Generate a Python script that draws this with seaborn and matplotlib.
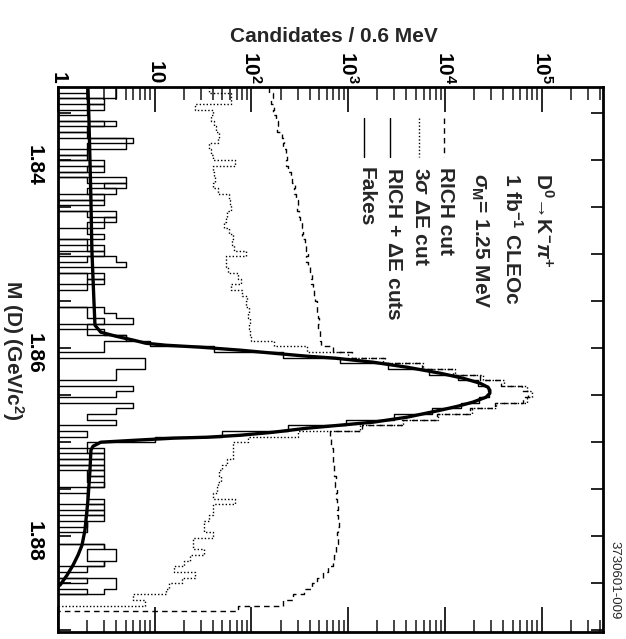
import numpy as np
import matplotlib
matplotlib.use("Agg")
import matplotlib.pyplot as plt
import matplotlib.transforms as mtransforms
from matplotlib.ticker import FixedLocator, FixedFormatter, LogLocator, MultipleLocator, NullFormatter
import seaborn as sns

# ---- binning: 0.6 MeV bins in M(D) ----
bin_lo = 1.8322
bin_width = 0.0006
n_bins = 97
edges = bin_lo + bin_width * np.arange(n_bins + 1)

# ---- candidates per bin ----
rich_cut = [150, 165, 160, 170, 168, 180, 190, 185, 205, 215,
            210, 225, 232, 228, 240, 255, 262, 280, 275, 290,
            300, 295, 310, 320, 330, 342, 335, 355, 370, 380,
            365, 385, 400, 420, 410, 430, 440, 455, 470, 480,
            490, 500, 485, 510, 515,
            520, 700, 1100, 2400, 5800, 12000, 23000, 38000, 62000, 72000,
            64000, 33000, 18000, 8300, 3600, 1400,
            650, 670, 660, 690, 700, 690, 720, 710, 740, 730,
            760, 750, 770, 780, 760, 790, 800, 780, 770, 790,
            750, 740, 720, 700, 620, 550, 470, 420, 345, 270,
            214, 72,
            0, 0, 0, 0]

de_cut = [36, 61, 61, 26, 40, 38, 41, 43, 46, 45,
          36, 38, 40, 68, 40, 41, 42, 40, 45, 58,
          60, 62, 56, 54, 52, 58, 65, 63, 66, 87,
          55, 54, 57, 72, 78, 62, 80, 90, 87, 95,
          92, 97, 94, 96, 100,
          170, 375, 1000, 2300, 5900, 12700, 24800, 41000, 70000, 79000,
          70000, 34000, 19000, 8500, 3700, 1330, 300, 91,
          65, 65, 64, 56, 50, 46, 48, 45, 44, 40,
          68, 40, 40, 36, 32, 32, 40, 25, 25, 32,
          23, 20, 16, 26, 19, 14, 13, 6, 8,
          0, 0, 0, 0, 0]

rich_de = [2, 1, 3, 2, 2, 0, 3, 2, 1, 5,
           2, 2, 1, 3, 2, 1, 2, 5, 2, 3,
           1, 1, 4, 3, 2, 2, 3, 1, 2, 3,
           2, 1, 1, 3, 2, 2, 1, 0, 1, 2,
           2, 3, 2, 3,
           5, 9, 41, 210, 830, 2600, 6800, 13600, 21900, 27900,
           28200, 22600, 14500, 7300, 2950, 950, 240, 49, 10,
           2, 2, 3, 1, 3, 2, 3, 3, 2, 2,
           2, 3, 2, 3, 2, 2, 1, 1, 3, 2,
           2, 3, 2, 1, 2, 1, 2,
           0, 0, 0, 0, 0, 0, 0]

fakes = [4, 4, 1, 3, 0, 1, 4, 0, 2, 6,
         5, 0, 2, 1, 3, 0, 5, 3, 4, 0,
         3, 0, 2, 4, 3, 0, 1, 2, 3, 0,
         4, 5, 0, 2, 3, 0, 0, 0, 1, 3,
         4, 6, 1, 2, 5,
         3, 3, 0, 8, 8, 4, 4, 1, 6, 4,
         1, 6, 4, 2, 4, 1, 2, 0, 1, 3,
         1, 3, 1, 3, 2, 3, 1, 2, 3, 1,
         3, 0, 2, 1, 1, 0, 3, 4, 4, 3,
         1, 1, 4, 4, 3,
         0, 0, 0, 0, 0, 0, 0]

# ---- fitted line shape (signal + background) ----
fit_mass = [1.83223, 1.83574, 1.84000, 1.84426, 1.84957, 1.85489, 1.85755,
            1.85830, 1.85872, 1.85915, 1.85947, 1.85968, 1.85989, 1.86021,
            1.86053, 1.86085, 1.86106, 1.86149, 1.86202, 1.86266, 1.86319,
            1.86372, 1.86415, 1.86447, 1.86479, 1.86521, 1.86574, 1.86617,
            1.86660, 1.86734, 1.86787, 1.86819, 1.86851, 1.86894, 1.86926,
            1.86947, 1.86957, 1.86979, 1.87000, 1.87043, 1.87085, 1.87298,
            1.87617, 1.87936, 1.88096, 1.88202, 1.88309, 1.88415, 1.88521,
            1.88553]
fit_value = [2.04, 2.09, 2.14, 2.19, 2.24, 2.35, 2.41,
             2.77, 3.96, 6.07, 8.08, 13.0, 29.8, 77,
             168, 376, 735, 1810, 4050, 8930, 15300,
             23000, 27800, 29100, 29100, 26600, 19400, 13600,
             8930, 4050, 1810, 825, 376, 168, 77,
             35, 15.7, 6.36, 2.77, 2.30, 2.19, 2.14,
             2.04, 1.90, 1.77, 1.61, 1.43, 1.24, 1.05,
             0.9]

count_ticks = [1, 10, 100, 1000, 10000, 100000]
count_labels = ["1", "10", "$10^{2}$", "$10^{3}$", "$10^{4}$", "$10^{5}$"]
mass_ticks = [1.84, 1.86, 1.88]
mass_labels = ["1.84", "1.86", "1.88"]

header_lines = ["D$^{0}$\u2192K$^{-}$$\\pi^{+}$",
                r"1 fb$^{-1}$ CLEOc",
                r"$\sigma_{\rm M}$= 1.25 MeV"]
legend_labels = ["RICH cut", r"3$\sigma$ $\Delta$E cut", r"RICH + $\Delta$E cuts", "Fakes"]
legend_styles = [(0, (4, 3)), (0, (1, 1.5)), "-", "-"]

# ---- style ----
sns.set_theme(style="ticks")
plt.rcParams["font.family"] = ["Liberation Sans", "DejaVu Sans"]
plt.rcParams["font.weight"] = "bold"
plt.rcParams["mathtext.fontset"] = "custom"
plt.rcParams["mathtext.rm"] = "Liberation Sans:bold"
plt.rcParams["mathtext.it"] = "Liberation Sans:italic:bold"
plt.rcParams["mathtext.bf"] = "Liberation Sans:bold"
plt.rcParams["mathtext.sf"] = "Liberation Sans:bold"

W, H = 626, 639
fig = plt.figure(figsize=(W / 100, H / 100), dpi=100)
ax = fig.add_axes([58 / W, 7 / H, 545 / W, 545 / H])
ax.set_xscale("log")
ax.set_xlim(1, 4.3e5)
ax.set_ylim(1.8902, 1.8322)


def step_path(counts):
    c = np.asarray(counts, dtype=float)
    c = np.where(c > 0, c, 0.05)
    xs = np.repeat(c, 2)
    ys = np.column_stack([edges[:-1], edges[1:]]).ravel()
    return xs, ys


common = dict(ax=ax, sort=False, estimator=None, color="black", legend=False)

xs, ys = step_path(rich_cut)
sns.lineplot(x=xs, y=ys, lw=1.0, linestyle=(0, (4, 3)), **common)
xs, ys = step_path(de_cut)
sns.lineplot(x=xs, y=ys, lw=1.0, linestyle=(0, (1, 1.5)), **common)
xs, ys = step_path(rich_de)
sns.lineplot(x=xs, y=ys, lw=1.0, **common)
xs, ys = step_path(fakes)
sns.lineplot(x=xs, y=ys, lw=1.0, **common)
sns.lineplot(x=fit_value, y=fit_mass, lw=2.4, **common)

# ---- axes decoration ----
for sp in ax.spines.values():
    sp.set_visible(True)
    sp.set_linewidth(2.0)
    sp.set_color("black")

ax.xaxis.set_major_locator(FixedLocator(count_ticks))
ax.xaxis.set_major_formatter(FixedFormatter(count_labels))
ax.xaxis.set_minor_locator(LogLocator(base=10, subs=np.arange(2, 10)))
ax.xaxis.set_minor_formatter(NullFormatter())
ax.tick_params(axis="x", which="major", direction="in", length=18, width=1.2,
               top=True, bottom=True, labeltop=True, labelbottom=False,
               pad=2, labelsize=15, colors="black")
ax.tick_params(axis="x", which="minor", direction="in", length=9, width=1.2,
               top=True, bottom=True)
for lab in ax.get_xticklabels():
    lab.set_rotation(-90)
    lab.set_ha("center")
    lab.set_va("bottom")

ax.yaxis.set_major_locator(FixedLocator(mass_ticks))
ax.yaxis.set_major_formatter(FixedFormatter(mass_labels))
ax.yaxis.set_minor_locator(MultipleLocator(0.005))
ax.tick_params(axis="y", which="both", direction="in", length=9, width=1.2,
               left=True, right=True, labelleft=True, labelright=False,
               pad=10, labelsize=15, colors="black")
shift_down = mtransforms.ScaledTranslation(0, -5 / 100, fig.dpi_scale_trans)
for lab in ax.get_yticklabels():
    lab.set_rotation(-90)
    lab.set_ha("right")
    lab.set_va("center")
    lab.set_transform(lab.get_transform() + shift_down)
ax.set_xlabel("")
ax.set_ylabel("")

fig.text(334 / W, 1 - 37 / H, "Candidates / 0.6 MeV", ha="center", va="center",
         fontsize=15, fontweight="bold")
fig.text(13 / W, 1 - 350 / H, r"M (D) (GeV/c$^{2}$)", rotation=-90,
         ha="center", va="center", fontsize=15, fontweight="bold")

# ---- annotation block ----
for x_c, txt in zip([543, 512, 480], header_lines):
    fig.text(x_c / W, 1 - 173 / H, txt, rotation=-90, ha="center", va="top",
             fontsize=15, fontweight="bold")

for x_line, x_txt, txt, ls in zip([444, 419, 390, 364], [445, 420, 393, 366],
                                  legend_labels, legend_styles):
    ax.plot([x_line / W, x_line / W], [1 - 118 / H, 1 - 157 / H],
            transform=fig.transFigure, color="black", lw=1.0, linestyle=ls)
    fig.text(x_txt / W, 1 - 167 / H, txt, rotation=-90, ha="center", va="top",
             fontsize=15, fontweight="bold")

fig.text(614 / W, 1 - 541 / H, "3730601-009", rotation=-90, ha="center", va="top",
         fontsize=9.5, fontweight="normal")

fig.savefig("out.png", dpi=100)
